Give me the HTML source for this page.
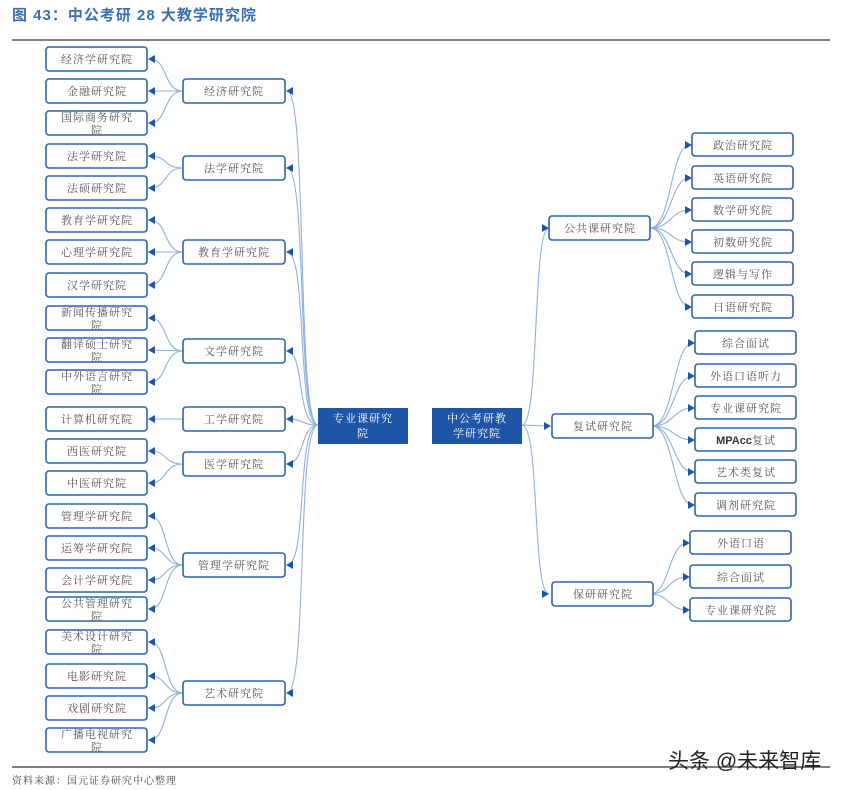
<!DOCTYPE html>
<html><head><meta charset="utf-8"><style>
html,body{margin:0;padding:0;background:#fff}
svg{display:block}
.t{font-family:"Liberation Serif","Noto Serif CJK SC",serif;font-size:11px;fill:#555;letter-spacing:1px}
.b{fill:#fff;stroke:#2f63ad;stroke-width:1.6}
.c{fill:none;stroke:#8fb0dc;stroke-width:1.1}
.a{fill:#1f55a6}
</style></head><body>
<svg width="843" height="790" viewBox="0 0 843 790" xmlns="http://www.w3.org/2000/svg">
<text x="12" y="20" style="font-family:'Liberation Sans','Noto Sans CJK SC',sans-serif;font-size:15px;font-weight:bold;fill:#3a6fb5;letter-spacing:1px">图 43：中公考研 28 大教学研究院</text>
<line x1="12" y1="40" x2="830" y2="40" stroke="#333" stroke-width="1.2"/>
<line x1="12" y1="767" x2="830" y2="767" stroke="#333" stroke-width="1.2"/>
<text x="12" y="784" class="t" style="font-size:10px;fill:#444">资料来源：国元证券研究中心整理</text>
<text x="668" y="768" style="font-family:'Liberation Sans','Noto Sans CJK SC',sans-serif;font-size:21px;fill:#222">头条 @未来智库</text>

<rect x="318" y="408" width="90" height="36" fill="#1f55a6"/>
<text x="363" y="422" text-anchor="middle" class="t" style="fill:#fff">专业课研究</text>
<text x="363" y="437" text-anchor="middle" class="t" style="fill:#fff">院</text>
<rect x="432" y="408" width="90" height="36" fill="#1f55a6"/>
<text x="477" y="422" text-anchor="middle" class="t" style="fill:#fff">中公考研教</text>
<text x="477" y="437" text-anchor="middle" class="t" style="fill:#fff">学研究院</text>

<g class="c">
<path d="M318,425 C296,425 308,91 287,91"/>
<path d="M318,425 C296,425 308,168 287,168"/>
<path d="M318,425 C296,425 308,252 287,252"/>
<path d="M318,425 C296,425 305,351 287,351"/>
<path d="M318,425 C300,425 305,419 287,419"/>
<path d="M318,425 C300,425 305,464 287,464"/>
<path d="M318,425 C296,425 308,565 287,565"/>
<path d="M318,425 C296,425 308,693 287,693"/>
</g>
<g class="a">
<polygon points="286,91 293,87 293,95"/>
<polygon points="286,168 293,164 293,172"/>
<polygon points="286,252 293,248 293,256"/>
<polygon points="286,351 293,347 293,355"/>
<polygon points="286,419 293,415 293,423"/>
<polygon points="286,464 293,460 293,468"/>
<polygon points="286,565 293,561 293,569"/>
<polygon points="286,693 293,689 293,697"/>
</g>

<g class="c">
<path d="M183,91 C163,91 168,59 150,59"/><path d="M183,91 L150,91"/><path d="M183,91 C163,91 168,123 150,123"/>
<path d="M183,168 C163,168 168,156 150,156"/><path d="M183,168 C163,168 168,188 150,188"/>
<path d="M183,252 C163,252 168,220 150,220"/><path d="M183,252 L150,252"/><path d="M183,252 C163,252 168,285 150,285"/>
<path d="M183,351 C163,351 168,318 150,318"/><path d="M183,351 L150,350"/><path d="M183,351 C163,351 168,382 150,382"/>
<path d="M183,419 L150,419"/>
<path d="M183,464 C163,464 168,451 150,451"/><path d="M183,464 C163,464 168,483 150,483"/>
<path d="M183,565 C163,565 168,516 150,516"/><path d="M183,565 C163,565 168,548 150,548"/><path d="M183,565 C163,565 168,580 150,580"/><path d="M183,565 C163,565 168,609 150,609"/>
<path d="M183,693 C163,693 168,642 150,642"/><path d="M183,693 C163,693 168,676 150,676"/><path d="M183,693 C163,693 168,708 150,708"/><path d="M183,693 C163,693 168,740 150,740"/>
</g>
<g class="a">
<polygon points="148,59 155,55 155,63"/><polygon points="148,91 155,87 155,95"/><polygon points="148,123 155,119 155,127"/>
<polygon points="148,156 155,152 155,160"/><polygon points="148,188 155,184 155,192"/>
<polygon points="148,220 155,216 155,224"/><polygon points="148,252 155,248 155,256"/><polygon points="148,285 155,281 155,289"/>
<polygon points="148,318 155,314 155,322"/><polygon points="148,350 155,346 155,354"/><polygon points="148,382 155,378 155,386"/>
<polygon points="148,419 155,415 155,423"/>
<polygon points="148,451 155,447 155,455"/><polygon points="148,483 155,479 155,487"/>
<polygon points="148,516 155,512 155,520"/><polygon points="148,548 155,544 155,552"/><polygon points="148,580 155,576 155,584"/><polygon points="148,609 155,605 155,613"/>
<polygon points="148,642 155,638 155,646"/><polygon points="148,676 155,672 155,680"/><polygon points="148,708 155,704 155,712"/><polygon points="148,740 155,736 155,744"/>
</g>

<g>
<rect class="b" x="183" y="79" width="102" height="24" rx="3"/><text class="t" x="234" y="95" text-anchor="middle">经济研究院</text>
<rect class="b" x="183" y="156" width="102" height="24" rx="3"/><text class="t" x="234" y="172" text-anchor="middle">法学研究院</text>
<rect class="b" x="183" y="240" width="102" height="24" rx="3"/><text class="t" x="234" y="256" text-anchor="middle">教育学研究院</text>
<rect class="b" x="183" y="339" width="102" height="24" rx="3"/><text class="t" x="234" y="355" text-anchor="middle">文学研究院</text>
<rect class="b" x="183" y="407" width="102" height="24" rx="3"/><text class="t" x="234" y="423" text-anchor="middle">工学研究院</text>
<rect class="b" x="183" y="452" width="102" height="24" rx="3"/><text class="t" x="234" y="468" text-anchor="middle">医学研究院</text>
<rect class="b" x="183" y="553" width="102" height="24" rx="3"/><text class="t" x="234" y="569" text-anchor="middle">管理学研究院</text>
<rect class="b" x="183" y="681" width="102" height="24" rx="3"/><text class="t" x="234" y="697" text-anchor="middle">艺术研究院</text>
</g>

<g>
<rect class="b" x="46" y="47" width="101" height="24" rx="3"/><text class="t" x="97" y="63" text-anchor="middle">经济学研究院</text>
<rect class="b" x="46" y="79" width="101" height="24" rx="3"/><text class="t" x="97" y="95" text-anchor="middle">金融研究院</text>
<rect class="b" x="46" y="111" width="101" height="24" rx="3"/><text class="t" x="97" y="121" text-anchor="middle">国际商务研究</text><text class="t" x="97" y="134" text-anchor="middle">院</text>
<rect class="b" x="46" y="144" width="101" height="24" rx="3"/><text class="t" x="97" y="160" text-anchor="middle">法学研究院</text>
<rect class="b" x="46" y="176" width="101" height="24" rx="3"/><text class="t" x="97" y="192" text-anchor="middle">法硕研究院</text>
<rect class="b" x="46" y="208" width="101" height="24" rx="3"/><text class="t" x="97" y="224" text-anchor="middle">教育学研究院</text>
<rect class="b" x="46" y="240" width="101" height="24" rx="3"/><text class="t" x="97" y="256" text-anchor="middle">心理学研究院</text>
<rect class="b" x="46" y="273" width="101" height="24" rx="3"/><text class="t" x="97" y="289" text-anchor="middle">汉学研究院</text>
<rect class="b" x="46" y="306" width="101" height="24" rx="3"/><text class="t" x="97" y="316" text-anchor="middle">新闻传播研究</text><text class="t" x="97" y="329" text-anchor="middle">院</text>
<rect class="b" x="46" y="338" width="101" height="24" rx="3"/><text class="t" x="97" y="348" text-anchor="middle">翻译硕士研究</text><text class="t" x="97" y="361" text-anchor="middle">院</text>
<rect class="b" x="46" y="370" width="101" height="24" rx="3"/><text class="t" x="97" y="380" text-anchor="middle">中外语言研究</text><text class="t" x="97" y="393" text-anchor="middle">院</text>
<rect class="b" x="46" y="407" width="101" height="24" rx="3"/><text class="t" x="97" y="423" text-anchor="middle">计算机研究院</text>
<rect class="b" x="46" y="439" width="101" height="24" rx="3"/><text class="t" x="97" y="455" text-anchor="middle">西医研究院</text>
<rect class="b" x="46" y="471" width="101" height="24" rx="3"/><text class="t" x="97" y="487" text-anchor="middle">中医研究院</text>
<rect class="b" x="46" y="504" width="101" height="24" rx="3"/><text class="t" x="97" y="520" text-anchor="middle">管理学研究院</text>
<rect class="b" x="46" y="536" width="101" height="24" rx="3"/><text class="t" x="97" y="552" text-anchor="middle">运筹学研究院</text>
<rect class="b" x="46" y="568" width="101" height="24" rx="3"/><text class="t" x="97" y="584" text-anchor="middle">会计学研究院</text>
<rect class="b" x="46" y="597" width="101" height="24" rx="3"/><text class="t" x="97" y="607" text-anchor="middle">公共管理研究</text><text class="t" x="97" y="620" text-anchor="middle">院</text>
<rect class="b" x="46" y="630" width="101" height="24" rx="3"/><text class="t" x="97" y="640" text-anchor="middle">美术设计研究</text><text class="t" x="97" y="653" text-anchor="middle">院</text>
<rect class="b" x="46" y="664" width="101" height="24" rx="3"/><text class="t" x="97" y="680" text-anchor="middle">电影研究院</text>
<rect class="b" x="46" y="696" width="101" height="24" rx="3"/><text class="t" x="97" y="712" text-anchor="middle">戏剧研究院</text>
<rect class="b" x="46" y="728" width="101" height="24" rx="3"/><text class="t" x="97" y="738" text-anchor="middle">广播电视研究</text><text class="t" x="97" y="751" text-anchor="middle">院</text>
</g>

<g class="c">
<path d="M522,425 C540,425 532,228 549,228"/>
<path d="M522,425 L549,426"/>
<path d="M522,425 C540,425 532,594 549,594"/>
<path d="M650,228 C672,228 670,145 690,145"/><path d="M650,228 C672,228 670,178 690,178"/><path d="M650,228 C672,228 670,210 690,210"/><path d="M650,228 C672,228 670,242 690,242"/><path d="M650,228 C672,228 670,274 690,274"/><path d="M650,228 C672,228 670,307 690,307"/>
<path d="M652,426 C674,426 673,343 693,343"/><path d="M652,426 C674,426 673,376 693,376"/><path d="M652,426 C674,426 673,408 693,408"/><path d="M652,426 C674,426 673,440 693,440"/><path d="M652,426 C674,426 673,472 693,472"/><path d="M652,426 C674,426 673,505 693,505"/>
<path d="M650,594 C670,594 668,543 688,543"/><path d="M650,594 C670,594 668,577 688,577"/><path d="M650,594 C670,594 668,610 688,610"/>
</g>
<g class="a">
<polygon points="549,228 542,224 542,232"/><polygon points="551,426 544,422 544,430"/><polygon points="549,594 542,590 542,598"/>
<polygon points="692,145 685,141 685,149"/><polygon points="692,178 685,174 685,182"/><polygon points="692,210 685,206 685,214"/><polygon points="692,242 685,238 685,246"/><polygon points="692,274 685,270 685,278"/><polygon points="692,307 685,303 685,311"/>
<polygon points="695,343 688,339 688,347"/><polygon points="695,376 688,372 688,380"/><polygon points="695,408 688,404 688,412"/><polygon points="695,440 688,436 688,444"/><polygon points="695,472 688,468 688,476"/><polygon points="695,505 688,501 688,509"/>
<polygon points="690,543 683,539 683,547"/><polygon points="690,577 683,573 683,581"/><polygon points="690,610 683,606 683,614"/>
</g>

<rect class="b" x="549" y="216" width="101" height="24" rx="3"/><text class="t" x="600" y="232" text-anchor="middle">公共课研究院</text>
<rect class="b" x="552" y="414" width="101" height="24" rx="3"/><text class="t" x="603" y="430" text-anchor="middle">复试研究院</text>
<rect class="b" x="552" y="582" width="101" height="24" rx="3"/><text class="t" x="603" y="598" text-anchor="middle">保研研究院</text>

<rect class="b" x="692" y="133" width="101" height="23" rx="3"/><text class="t" x="743" y="149" text-anchor="middle">政治研究院</text>
<rect class="b" x="692" y="166" width="101" height="23" rx="3"/><text class="t" x="743" y="182" text-anchor="middle">英语研究院</text>
<rect class="b" x="692" y="198" width="101" height="23" rx="3"/><text class="t" x="743" y="214" text-anchor="middle">数学研究院</text>
<rect class="b" x="692" y="230" width="101" height="23" rx="3"/><text class="t" x="743" y="246" text-anchor="middle">初数研究院</text>
<rect class="b" x="692" y="262" width="101" height="23" rx="3"/><text class="t" x="743" y="278" text-anchor="middle">逻辑与写作</text>
<rect class="b" x="692" y="295" width="101" height="23" rx="3"/><text class="t" x="743" y="311" text-anchor="middle">日语研究院</text>
<rect class="b" x="695" y="331" width="101" height="23" rx="3"/><text class="t" x="746" y="347" text-anchor="middle">综合面试</text>
<rect class="b" x="695" y="364" width="101" height="23" rx="3"/><text class="t" x="746" y="380" text-anchor="middle">外语口语听力</text>
<rect class="b" x="695" y="396" width="101" height="23" rx="3"/><text class="t" x="746" y="412" text-anchor="middle">专业课研究院</text>
<rect class="b" x="695" y="428" width="101" height="23" rx="3"/><text class="t" x="746" y="444" text-anchor="middle"><tspan style="font-family:'Liberation Sans',sans-serif;font-weight:bold;fill:#333;letter-spacing:0">MPAcc</tspan>复试</text>
<rect class="b" x="695" y="460" width="101" height="23" rx="3"/><text class="t" x="746" y="476" text-anchor="middle">艺术类复试</text>
<rect class="b" x="695" y="493" width="101" height="23" rx="3"/><text class="t" x="746" y="509" text-anchor="middle">调剂研究院</text>
<rect class="b" x="690" y="531" width="101" height="23" rx="3"/><text class="t" x="741" y="547" text-anchor="middle">外语口语</text>
<rect class="b" x="690" y="565" width="101" height="23" rx="3"/><text class="t" x="741" y="581" text-anchor="middle">综合面试</text>
<rect class="b" x="690" y="598" width="101" height="23" rx="3"/><text class="t" x="741" y="614" text-anchor="middle">专业课研究院</text>
</svg>
</body></html>
